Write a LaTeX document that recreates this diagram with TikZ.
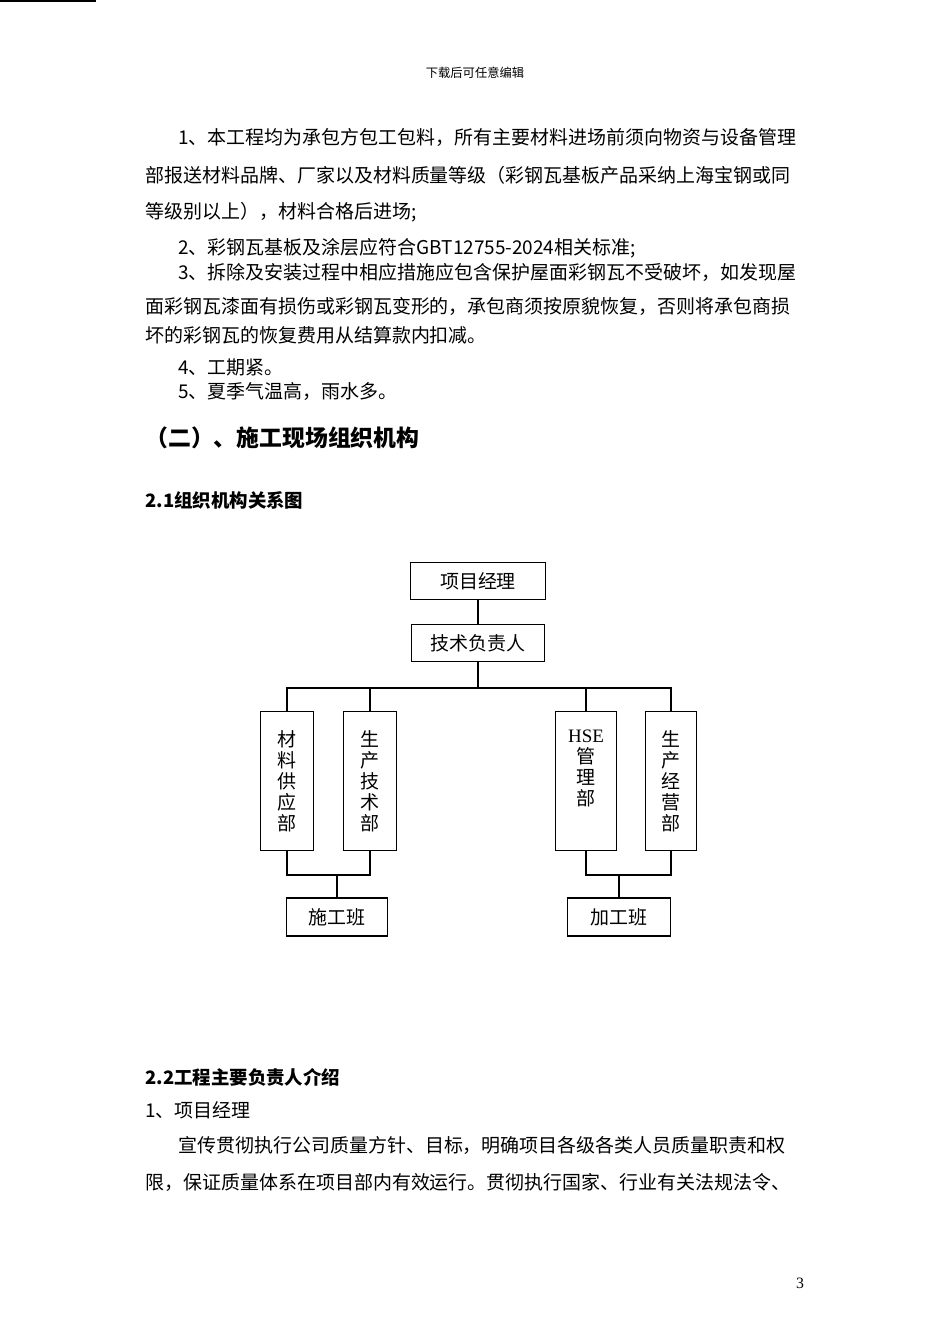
\documentclass[tikz,border=0pt]{standalone}
\usepackage{fontspec}
\setmainfont{Noto Sans CJK SC}
\newfontfamily\latinf{Liberation Serif}
\begin{document}
\begin{tikzpicture}[x=0.02cm,y=-0.02cm,
  body/.style={anchor=west,inner sep=0pt,font=\fontsize{10.8pt}{12pt}\selectfont},
  hd/.style={anchor=west,inner sep=0pt,font=\fontsize{10.5pt}{12pt}\selectfont\bfseries},
  box/.style={draw,line width=0.8pt,inner sep=0pt,font=\fontsize{10.8pt}{12pt}\selectfont},
  ln/.style={line width=0.8pt}]
\useasboundingbox (0,0) rectangle (950,1344);
\node[inner sep=0pt,font=\fontsize{7pt}{8pt}\selectfont] (hdr) at (475,73) {下载后可任意编辑};
\node[body] (p1) at (178,137) {1、本工程均为承包方包工包料，所有主要材料进场前须向物资与设备管理};
\node[body] (p2) at (145,175) {部报送材料品牌、厂家以及材料质量等级（彩钢瓦基板产品采纳上海宝钢或同};
\node[body] (p3) at (145,212) {等级别以上），材料合格后进场;};
\node[body] (p4) at (178,248) {2、彩钢瓦基板及涂层应符合GBT12755-2024相关标准;};
\node[body] (p5) at (178,272) {3、拆除及安装过程中相应措施应包含保护屋面彩钢瓦不受破坏，如发现屋};
\node[body] (p6) at (145,306) {面彩钢瓦漆面有损伤或彩钢瓦变形的，承包商须按原貌恢复，否则将承包商损};
\node[body] (p7) at (145,335) {坏的彩钢瓦的恢复费用从结算款内扣减。};
\node[body] (p8) at (178,367) {4、工期紧。};
\node[body] (p9) at (178,392) {5、夏季气温高，雨水多。};
\node[anchor=west,inner sep=0pt,font=\fontsize{13pt}{15pt}\selectfont\bfseries] (h1) at (145,438) {（二）、施工现场组织机构};
\node[hd] (h2) at (145,500) {2.1组织机构关系图};

\node[box,minimum width=135\pgflinewidth] at (0,0) {};
\node[box,minimum width=2.7cm,minimum height=0.74cm] (pm) at (478,581) {项目经理};
\node[box,minimum width=2.66cm,minimum height=0.74cm] (tech) at (478,643) {技术负责人};
\draw[ln] (pm) -- (tech);
\node[box,minimum width=1.06cm,minimum height=2.78cm,align=center,anchor=north] (d1) at (287,711) {材\\料\\供\\应\\部};
\node[box,minimum width=1.06cm,minimum height=2.78cm,align=center,anchor=north] (d2) at (370,711) {生\\产\\技\\术\\部};
\node[box,minimum width=1.22cm,minimum height=2.78cm,align=center,anchor=north] (d3) at (586,711) {{\latinf HSE}\\管\\理\\部\\\strut};
\node[box,minimum width=1.02cm,minimum height=2.78cm,align=center,anchor=north] (d4) at (671,711) {生\\产\\经\\营\\部};
\coordinate (t) at (478,688);
\draw[ln] (tech) -- (t);
\draw[ln] (d1.north) |- (t) -| (d4.north);
\draw[ln] (d2.north) -- (d2.north |- t);
\draw[ln] (d3.north) -- (d3.north |- t);
\node[box,minimum width=2.02cm,minimum height=0.76cm] (sg) at (337,917) {施工班};
\node[box,minimum width=2.06cm,minimum height=0.76cm] (jg) at (619,917) {加工班};
\coordinate (bl) at (337,875);
\coordinate (br) at (619,875);
\draw[ln] (d1.south) |- (bl) -| (d2.south);
\draw[ln] (bl) -- (sg);
\draw[ln] (d3.south) |- (br) -| (d4.south);
\draw[ln] (br) -- (jg);

\node[hd] (h3) at (145,1077) {2.2工程主要负责人介绍};
\node[body] (q1) at (145,1110) {1、项目经理};
\node[body] (q2) at (178,1145) {宣传贯彻执行公司质量方针、目标，明确项目各级各类人员质量职责和权};
\node[body] (q3) at (145,1182) {限，保证质量体系在项目部内有效运行。贯彻执行国家、行业有关法规法令、};
\node[inner sep=0pt,font=\latinf\fontsize{9pt}{10pt}\selectfont] (pg) at (800,1283) {3};
\end{tikzpicture}
\end{document}
